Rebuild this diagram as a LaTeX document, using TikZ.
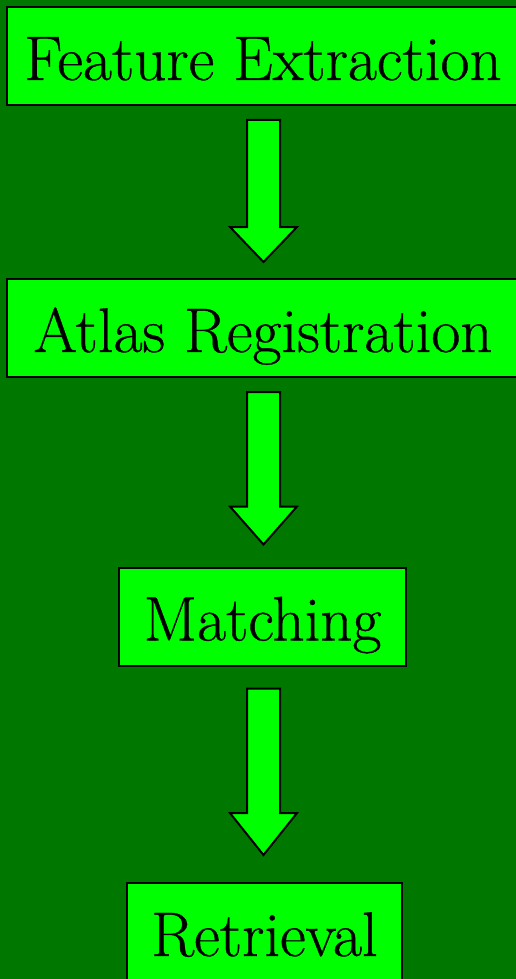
\documentclass[tikz,border=0pt]{standalone}
\usepackage{fontspec}
\newfontfamily\stagefont{Latin Modern Roman}[FakeBold=0.6]
\usetikzlibrary{calc}

\definecolor{bgdark}{RGB}{0,120,0}
\definecolor{lime}{RGB}{0,255,0}

\tikzset{
  stagebox/.style={draw=black, line width=2pt, fill=lime, rectangle,
    inner sep=0pt, minimum height=98pt, text height=48pt, text depth=0pt,
    font=\stagefont\fontsize{63}{70}\selectfont},
  arrowbody/.style={draw=black, line width=2pt, fill=lime, line join=miter}
}

% block arrow from the bottom of #1 to the top of #2:
% #3 gap below #1, #4 gap above #2, #5 length of the head
\newcommand{\blockarrow}[5]{%
  \coordinate (top) at ($(#1.south -| col)+(0,#3)$);
  \coordinate (tip) at ($(#2.north -| col)+(0,-#4)$);
  \filldraw[arrowbody] ($(top)+(-16.5,0)$) -- ($(top)+(16.5,0)$)
    -- ($(tip)+(16.5,-#5)$) -- ($(tip)+(33.5,-#5)$) -- (tip)
    -- ($(tip)+(-33.5,-#5)$) -- ($(tip)+(-16.5,-#5)$) -- cycle;}

\begin{document}
\begin{tikzpicture}[x=1pt, y=-1pt]
  \useasboundingbox (0,0) rectangle (516,979);
  \fill[bgdark] (0,0) rectangle (516,979);
  \coordinate (col) at (263.5,0);

  \node[stagebox, minimum width=512pt] (fe) at (263,56)    {Feature Extraction};
  \node[stagebox, minimum width=512pt] (ar) at (263,328)   {Atlas Registration};
  \node[stagebox, minimum width=287pt] (ma) at (262.5,616.5) {Matching};
  \node[stagebox, minimum width=275pt] (re) at (264.5,932) {Retrieval};

  \blockarrow{fe}{ar}{14}{16}{35}
  \blockarrow{ar}{ma}{14}{22}{38}
  \blockarrow{ma}{re}{22}{27}{42}
\end{tikzpicture}
\end{document}
